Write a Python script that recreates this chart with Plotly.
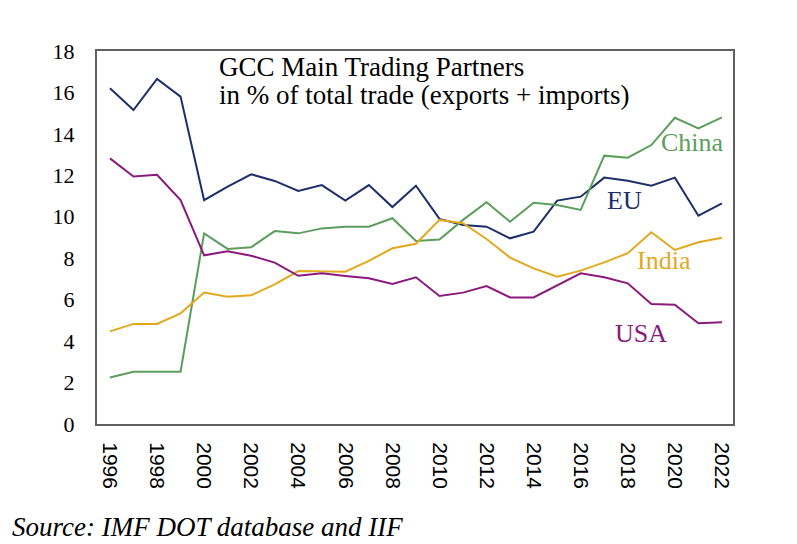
import plotly.graph_objects as go

# GCC main trading partners, % of total trade
years = list(range(1996, 2023))

eu = [16.2, 15.15, 16.65, 15.8, 10.8, 11.45, 12.05, 11.73, 11.25, 11.53,
      10.78, 11.53, 10.47, 11.5, 9.9, 9.6, 9.52, 8.96, 9.28, 10.78,
      10.97, 11.89, 11.74, 11.5, 11.89, 10.05, 10.65]
china = [2.24, 2.52, 2.52, 2.52, 9.2, 8.45, 8.53, 9.31, 9.2, 9.44,
         9.52, 9.52, 9.93, 8.83, 8.9, 9.85, 10.7, 9.76, 10.68, 10.57,
         10.33, 12.95, 12.85, 13.46, 14.78, 14.27, 14.8]
india = [4.47, 4.83, 4.83, 5.34, 6.34, 6.14, 6.21, 6.74, 7.38, 7.35,
         7.35, 7.87, 8.48, 8.7, 9.85, 9.69, 8.93, 8.03, 7.51, 7.11,
         7.4, 7.8, 8.24, 9.25, 8.4, 8.77, 8.99]
usa = [12.82, 11.94, 12.03, 10.81, 8.14, 8.33, 8.12, 7.79, 7.15, 7.27,
       7.14, 7.03, 6.76, 7.08, 6.18, 6.34, 6.66, 6.11, 6.11, 6.71,
       7.27, 7.08, 6.79, 5.79, 5.76, 4.86, 4.91]

x_ticks = list(range(1996, 2023, 2))
y_ticks = list(range(0, 19, 2))

SERIF = "Georgia, 'Liberation Serif', 'DejaVu Serif', serif"
C_EU, C_CHINA, C_INDIA, C_USA = "#1b2f6b", "#5b9e5b", "#e2a91e", "#8a1a7c"

fig = go.Figure()
for name, vals, col in [("EU", eu, C_EU), ("China", china, C_CHINA),
                        ("India", india, C_INDIA), ("USA", usa, C_USA)]:
    fig.add_trace(go.Scatter(x=years, y=vals, mode="lines", name=name,
                             line=dict(color=col, width=2)))

# series labels sitting inside the plot
labels = [("China", 2020.77, 13.6, C_CHINA), ("EU", 2017.86, 10.77, C_EU),
          ("India", 2019.53, 7.9, C_INDIA), ("USA", 2018.58, 4.38, C_USA)]
for txt, lx, ly, col in labels:
    fig.add_annotation(x=lx, y=ly, text=txt, showarrow=False,
                       font=dict(family=SERIF, size=26, color=col))

# title, two lines placed separately to get the tight line spacing
for txt, ty in [("GCC Main Trading Partners", 0.957),
                ("in % of total trade (exports + imports)", 0.882)]:
    fig.add_annotation(x=0.189, y=ty, xref="paper", yref="paper", text=txt,
                       showarrow=False, xanchor="left", yanchor="middle",
                       font=dict(family=SERIF, size=27, color="black"))

fig.add_annotation(x=-0.137, y=-0.276, xref="paper", yref="paper",
                   text="<i>Source: IMF DOT database and IIF</i>",
                   showarrow=False, xanchor="left", yanchor="middle",
                   font=dict(family=SERIF, size=27, color="black"))

# page body has an 8px margin, so the figure is sized 8px smaller
fig.update_layout(
    width=789, height=536,
    margin=dict(l=89, r=64, t=43, b=120),
    paper_bgcolor="white", plot_bgcolor="white",
    showlegend=False,
    xaxis=dict(range=[1995.45, 2022.47], tickvals=x_ticks, tickangle=90,
               tickfont=dict(family="Liberation Sans, Arial, sans-serif", size=21, color="black"),
               showgrid=False, zeroline=False, showline=True, linecolor="#606060",
               linewidth=2, mirror=True, ticks="", ticklabelstandoff=12),
    yaxis=dict(range=[0, 18], tickvals=y_ticks,
               tickfont=dict(family=SERIF, size=22, color="black"),
               showgrid=False, zeroline=False, showline=True, linecolor="#606060",
               linewidth=2, mirror=True, ticks="", ticklabelstandoff=16),
)

fig.write_html("out.html")
